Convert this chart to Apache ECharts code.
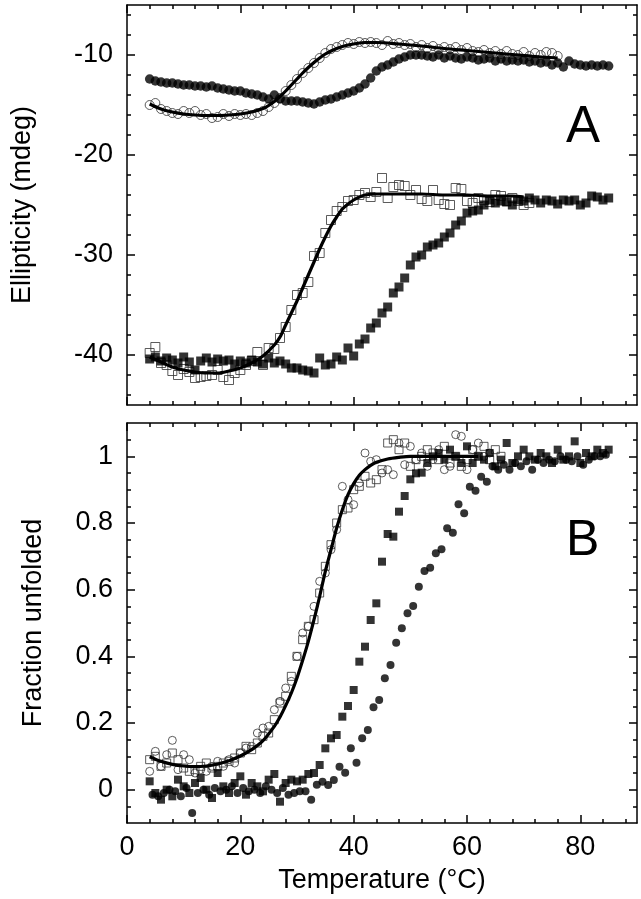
<!DOCTYPE html>
<html><head><meta charset="utf-8">
<script src="https://cdn.jsdelivr.net/npm/echarts@6/dist/echarts.min.js"></script>
<style>html,body{margin:0;padding:0;background:#fff}#c{width:641px;height:899px}</style>
</head><body><div id="c"></div>
<script>
// ---------- Panel A : ellipticity (mdeg) ----------
const tempA_full = [4,5,6,7,8,9,10,11,12,13,14,15,16,17,18,19,20,21,22,23,24,25,26,27,28,29,30,31,32,33,34,35,36,37,38,39,40,41,42,43,44,45,46,47,48,49,50,51,52,53,54,55,56,57,58,59,60,61,62,63,64,65,66,67,68,69,70,71,72,73,74,75,76,77,78,79,80,81,82,83,84,85];
const filledCirclesA = [-12.4,-12.6,-12.7,-12.8,-12.8,-12.9,-13.0,-13.0,-13.1,-13.1,
 -13.2,-13.1,-13.3,-13.4,-13.5,-13.6,-13.6,-13.8,-13.9,-14.0,
 -14.2,-14.4,-14.0,-14.4,-14.6,-14.6,-14.6,-14.7,-14.8,-14.9,
 -14.7,-14.5,-14.4,-14.2,-14.0,-13.8,-13.6,-13.3,-12.9,-12.3,
 -11.6,-11.2,-11.0,-10.7,-10.4,-10.2,-10.0,-10.0,-10.0,-10.1,
 -10.2,-10.0,-10.3,-10.1,-10.3,-10.4,-10.2,-10.3,-10.5,-10.4,
 -10.3,-10.6,-10.4,-10.6,-10.5,-10.6,-10.5,-10.7,-10.6,-10.8,
 -10.7,-11.0,-10.8,-11.2,-10.6,-10.9,-11.0,-11.1,-11.0,-11.1,
 -11.0,-11.1];
const filledSquaresA = [-40.4,-40.2,-40.6,-40.3,-40.5,-40.8,-40.2,-40.7,-41.5,-40.6,
 -40.3,-40.7,-40.4,-40.6,-40.5,-40.9,-40.6,-40.8,-40.5,-40.7,
 -40.9,-40.3,-40.8,-40.6,-40.9,-41.3,-41.3,-41.5,-41.6,-41.8,
 -40.3,-41.0,-40.9,-40.2,-40.5,-39.3,-40.1,-38.9,-38.4,-37.3,
 -36.8,-35.8,-35.2,-33.8,-33.2,-32.3,-31.0,-30.2,-30.0,-29.2,
 -29.0,-28.8,-28.2,-27.8,-27.0,-26.6,-25.8,-25.6,-25.5,-25.0,
 -24.5,-24.8,-24.6,-24.7,-25.0,-24.5,-24.6,-24.3,-24.5,-24.8,
 -24.5,-24.6,-24.9,-24.5,-24.6,-24.5,-25.0,-24.8,-24.1,-24.2,
 -24.5,-24.3];
const tempA_openCircles = [4,5,6,7,8,9,10,11,12,13,14,15,16,17,18,19,20,21,22,23,24,25,26,27,28,29,30,31,32,33,34,35,36,37,38,39,40,41,42,43,44,45,46,47,48,49,50,51,52,53,54,55,56,57,58,59,60,61,62,63,64,65,66,67,68,69,70,71,72,73,74,75,76];
const openCirclesA = [-15.0,-14.8,-15.4,-15.6,-15.8,-15.9,-15.6,-15.8,-15.6,-16.0,
 -15.9,-16.3,-16.2,-15.9,-16.1,-15.9,-16.0,-15.9,-16.0,-15.8,
 -15.6,-15.2,-14.8,-14.3,-13.6,-13.0,-12.4,-11.8,-11.3,-10.8,
 -10.3,-9.8,-9.4,-9.2,-9.0,-8.8,-8.9,-8.7,-8.8,-8.7,
 -8.8,-9.0,-8.6,-8.9,-8.8,-9.0,-8.9,-9.2,-9.0,-9.3,
 -9.1,-9.4,-9.2,-9.4,-9.2,-9.5,-9.3,-9.6,-9.7,-9.5,
 -9.8,-9.6,-9.9,-9.6,-9.9,-10.0,-9.7,-10.1,-9.8,-10.0,
 -9.7,-9.8,-10.1];
const tempA_openSquares = [4,5,6,7,8,9,10,11,12,13,14,15,16,17,18,19,20,21,22,23,24,25,26,27,28,29,30,31,32,33,34,35,36,37,38,39,40,41,42,43,44,45,46,47,48,49,50,51,52,53,54,55,56,57,58,59,60,61,62,63,64,65,66,67,68,69,70,71];
const openSquaresA = [-39.8,-39.2,-40.8,-41.0,-41.6,-42.0,-41.4,-41.7,-42.3,-42.2,
 -42.1,-42.0,-41.5,-42.2,-42.5,-41.8,-41.5,-41.0,-40.6,-39.7,
 -41.0,-39.3,-39.4,-38.3,-37.2,-35.5,-34.0,-33.8,-32.7,-30.1,
 -29.8,-27.8,-26.5,-25.6,-25.2,-24.6,-24.5,-24.0,-23.8,-24.2,
 -23.7,-22.3,-24.3,-23.2,-23.0,-23.1,-24.0,-23.5,-24.4,-24.6,
 -23.5,-24.5,-24.9,-25.0,-23.3,-23.4,-24.6,-24.8,-24.3,-24.5,
 -24.7,-24.0,-24.1,-24.6,-24.3,-24.6,-25.0,-24.8];
const fitA1_temp = [4,6,8,10,12,14,16,18,20,22,24,25,26,27,28,29,30,31,32,33,34,35,36,37,38,39,40,42,44,48,52,56,60,64,68,72,76];
const fitA1_val = [-14.9,-15.4,-15.7,-15.9,-16.0,-16.05,-16.05,-16.0,-15.9,-15.7,-15.35,-15.05,-14.65,-14.15,-13.6,-13.0,-12.4,-11.8,-11.25,-10.75,-10.3,-9.9,-9.6,-9.35,-9.15,-9.0,-8.9,-8.75,-8.75,-8.9,-9.1,-9.35,-9.55,-9.75,-9.95,-10.15,-10.3];
const fitA2_temp = [4,6,8,10,12,14,16,18,20,22,24,26,27,28,29,30,31,32,33,34,35,36,37,38,39,40,41,42,44,48,52,56,60,64,68,70];
const fitA2_val = [-40.2,-40.7,-41.2,-41.5,-41.7,-41.8,-41.8,-41.6,-41.3,-40.8,-40.1,-39.0,-38.2,-37.0,-35.8,-34.6,-33.3,-32.0,-30.7,-29.4,-28.2,-27.1,-26.2,-25.4,-24.9,-24.5,-24.2,-24.0,-23.9,-23.9,-23.9,-24.0,-24.0,-24.1,-24.1,-24.2];

// ---------- Panel B : fraction unfolded ----------
const tempB_filledSquares = [4,5,6,7,8,9,10,11,12,13,14,15,16,17,18,19,20,21,22,23,24,25,26,27,28,29,30,31,32,33,34,35,36,37,38,39,40,41,42,43,44,45,46,47,48,49,50,51,52,53,54,55,56,57,58,59,60,61,62,63,64,65,66,67,68,69,70,71,72,73,74,75,76,77,78,79,80,81,82,83,84,85];
const filledSquaresB = [0.025,-0.01,-0.03,0.0,-0.02,0.03,0.01,-0.01,0.02,0.035,
 0.0,-0.025,0.05,0.01,-0.01,0.02,0.04,-0.015,0.02,0.01,
 -0.005,0.03,0.047,-0.036,0.02,0.03,0.025,0.03,0.047,0.05,
 0.074,0.124,0.154,0.164,0.219,0.251,0.299,0.384,0.429,0.509,
 0.559,0.684,0.767,0.759,0.834,0.881,0.931,0.949,0.951,0.98,
 1.0,1.01,0.99,1.02,1.0,0.98,1.03,0.98,1.0,0.99,
 1.01,0.97,0.99,1.04,0.98,1.0,1.02,1.0,0.99,1.01,
 1.0,0.98,1.02,0.99,1.0,1.045,0.98,1.01,1.0,1.02,
 1.01,1.02];
const tempB_filledCircles = [4.5,5.5,6.5,7.5,8.5,9.5,10.5,11.5,12.5,13.5,14.5,15.5,16.5,17.5,18.5,19.5,20.5,21.5,22.5,23.5,24.5,25.5,26.5,27.5,28.5,29.5,30.5,31.5,32.5,33.5,34.5,35.5,36.5,37.5,38.5,39.5,40.5,41.5,42.5,43.5,44.5,45.5,46.5,47.5,48.5,49.5,50.5,51.5,52.5,53.5,54.5,55.5,56.5,57.5,58.5,59.5,60.5,61.5,62.5,63.5,64.5,65.5,66.5,67.5,68.5,69.5,70.5,71.5,72.5,73.5,74.5,75.5,76.5,77.5,78.5,79.5,80.5,81.5,82.5,83.5,84.5];
const filledCirclesB = [-0.015,-0.02,-0.01,0.0,-0.005,-0.02,0.005,-0.07,-0.01,0.0,
 -0.015,0.005,-0.005,0.0,0.01,-0.01,0.005,-0.005,0.0,-0.01,
 0.01,0.0,-0.01,0.005,-0.015,-0.01,-0.005,-0.005,-0.03,0.015,
 0.024,0.014,0.029,0.069,0.051,0.124,0.081,0.154,0.179,0.247,
 0.269,0.334,0.374,0.441,0.484,0.529,0.551,0.609,0.656,0.666,
 0.709,0.721,0.784,0.771,0.856,0.829,0.909,0.897,0.939,0.924,
 0.97,0.96,0.975,0.96,0.98,0.97,0.985,0.96,0.99,0.98,
 0.99,0.985,1.0,0.99,0.985,1.0,0.975,0.99,1.0,1.0,
 1.005];
const tempB_openCircles = [4,5,6,7,8,9,10,11,12,13,14,15,16,17,18,19,20,21,22,23,24,25,26,27,28,29,30,31,32,33,34,35,36,37,38,39,40,41,42,43,44,45,46,47,48,49,50,51,52,53,54,55,56,57,58,59,60,61,62,63,64];
const openCirclesB = [0.055,0.115,0.07,0.105,0.148,0.06,0.105,0.09,0.05,0.06,
 0.055,0.07,0.085,0.07,0.09,0.08,0.11,0.125,0.13,0.17,
 0.185,0.19,0.24,0.265,0.305,0.325,0.40,0.47,0.49,0.55,
 0.625,0.65,0.72,0.78,0.91,0.87,0.855,0.92,1.01,0.985,
 0.99,0.95,0.96,0.945,1.04,0.975,1.03,0.99,1.01,0.97,
 0.99,1.02,0.96,0.97,1.065,1.06,0.96,1.02,1.04,1.0,
 1.01];
const tempB_openSquares = [4,5,6,7,8,9,10,11,12,13,14,15,16,17,18,19,20,21,22,23,24,25,26,27,28,29,30,31,32,33,34,35,36,37,38,39,40,41,42,43,44,45,46,47,48,49,50,51,52,53,54,55,56,57,58,59,60,61,62,63,64,65,66];
const openSquaresB = [0.09,0.10,0.07,0.08,0.11,0.09,0.065,0.055,0.06,0.07,
 0.08,0.065,0.07,0.08,0.085,0.095,0.11,0.13,0.12,0.14,
 0.16,0.17,0.21,0.26,0.28,0.34,0.40,0.45,0.49,0.51,
 0.59,0.67,0.735,0.80,0.84,0.845,0.90,0.91,0.94,0.92,
 0.93,0.96,1.04,1.05,1.02,1.04,0.97,0.99,1.0,1.02,
 1.01,0.99,1.03,0.98,1.0,0.97,0.99,1.02,1.0,1.03,
 0.99,1.02,1.0];
const fitB_temp = [4,6,8,10,12,14,16,18,20,22,24,26,27,28,29,30,31,32,33,34,35,36,37,38,39,40,41,42,43,44,46,48,50,55,60,62];
const fitB_val = [0.099,0.085,0.076,0.071,0.069,0.071,0.077,0.087,0.101,0.12,0.147,0.19,0.218,0.252,0.29,0.335,0.388,0.445,0.51,0.58,0.655,0.72,0.785,0.84,0.885,0.918,0.943,0.96,0.973,0.982,0.992,0.997,1.0,1.0,1.0,1.0];

// ---------- ticks ----------
const xMajor = [0,20,40,60,80];
const xMinor = [4,8,12,16,24,28,32,36,44,48,52,56,64,68,72,76,84,88];
const yMajorA = [-40,-30,-20,-10];
const yMinorA = [-44,-42,-38,-36,-34,-32,-28,-26,-24,-22,-18,-16,-14,-12,-8,-6];
const yMajorB = [0,0.2,0.4,0.6,0.8,1];
const yMinorB = [-0.05,0.05,0.1,0.15,0.25,0.3,0.35,0.45,0.5,0.55,0.65,0.7,0.75,0.85,0.9,0.95,1.05];

const FONT = "'Liberation Sans', Arial, sans-serif";
const FS = 27;
const pairs = (t, v) => t.map((x, i) => [x, v[i]]);
const lineSt = {color:'#000', width:1.5};

function axisSet(dim, grid, min, max, major, minor, pos1, pos2, labels, name, nameGap) {
  const base = {type:'value', gridIndex:grid, min:min, max:max, splitLine:{show:false}, scale:false};
  const mk = (pos, vals, len, showLine, showLab) => Object.assign({}, base, {
    position: pos,
    axisLine: {show: showLine, onZero:false, lineStyle: lineSt},
    axisTick: {show:true, inside:true, length:len, customValues: vals, lineStyle: lineSt},
    axisLabel: {show: showLab, customValues: vals, fontSize:FS, color:'#000', fontFamily:FONT, margin: dim==='x'?11:14},
  });
  const a0 = mk(pos1, major, 8, true, labels);
  if (name) {
    a0.name = name; a0.nameLocation = 'middle'; a0.nameGap = nameGap;
    a0.nameTextStyle = {fontSize:FS, color:'#000', fontFamily:FONT};
  }
  return [a0, mk(pos1, minor, 4, false, false), mk(pos2, major, 8, true, false), mk(pos2, minor, 4, false, false)];
}

const xAxes = [].concat(
  axisSet('x', 0, 0, 90, xMajor, xMinor, 'bottom', 'top', false),
  axisSet('x', 1, 0, 90, xMajor, xMinor, 'bottom', 'top', true, 'Temperature (°C)', 44)
);
const yAxes = [].concat(
  axisSet('y', 0, -45, -5, yMajorA, yMinorA, 'left', 'right', true, 'Ellipticity (mdeg)', 91),
  axisSet('y', 1, -0.1, 1.1, yMajorB, yMinorB, 'left', 'right', true, 'Fraction unfolded', 80)
);

function scat(grid, data, symbol, size, filled, z) {
  return {
    type:'scatter', xAxisIndex: grid*4, yAxisIndex: grid*4, data: data,
    symbol: symbol, symbolSize: size, z: z, silent:true,
    itemStyle: filled ? {color:'#000'} : {color:'rgba(0,0,0,0)', borderColor:'#333', borderWidth:1}
  };
}
function fit(grid, data) {
  return {type:'line', xAxisIndex: grid*4, yAxisIndex: grid*4, data: data, smooth:0.3,
    showSymbol:false, z:3, silent:true, lineStyle:{color:'#000', width:3.2}};
}

const option = {
  animation:false,
  backgroundColor:'#fff',
  grid:[
    {left:127, top:5, width:510, height:400},
    {left:127, top:423, width:510, height:400}
  ],
  xAxis: xAxes,
  yAxis: yAxes,
  series: [
    scat(0, pairs(tempA_openCircles, openCirclesA), 'circle', 9, false, 2),
    scat(0, pairs(tempA_openSquares, openSquaresA), 'rect', 9, false, 2),
    fit(0, pairs(fitA1_temp, fitA1_val)),
    fit(0, pairs(fitA2_temp, fitA2_val)),
    scat(0, pairs(tempA_full, filledCirclesA), 'circle', 9.5, true, 4),
    scat(0, pairs(tempA_full, filledSquaresA), 'rect', 9, true, 4),
    scat(1, pairs(tempB_openCircles, openCirclesB), 'circle', 8, false, 2),
    scat(1, pairs(tempB_openSquares, openSquaresB), 'rect', 8, false, 2),
    fit(1, pairs(fitB_temp, fitB_val)),
    scat(1, pairs(tempB_filledSquares, filledSquaresB), 'rect', 8, true, 4),
    scat(1, pairs(tempB_filledCircles, filledCirclesB), 'circle', 8, true, 4)
  ],
  graphic:[
    {type:'text', left:566, top:102, style:{text:'A', font:"51px 'Liberation Sans', Arial, sans-serif", fill:'#000'}},
    {type:'text', left:566, top:516, style:{text:'B', font:"50px 'Liberation Sans', Arial, sans-serif", fill:'#000'}}
  ]
};
const chart = echarts.init(document.getElementById('c'), null, {renderer:'canvas'});
chart.setOption(option);
</script>
</body></html>
